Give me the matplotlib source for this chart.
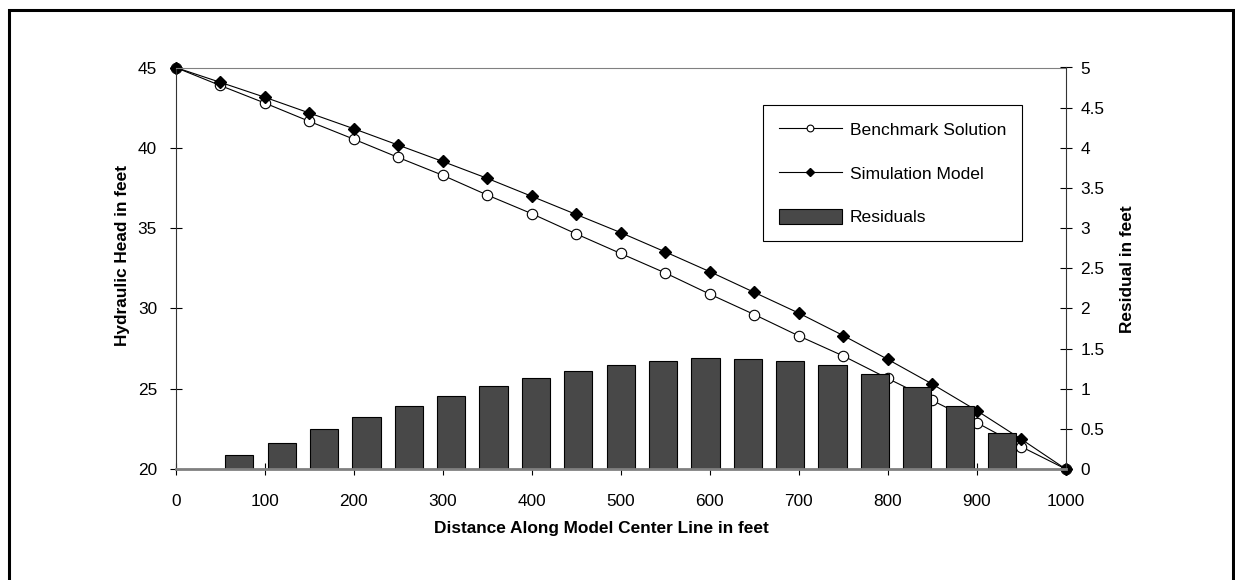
import matplotlib.pyplot as plt
import numpy as np
from matplotlib.patches import Rectangle
from matplotlib.ticker import FuncFormatter

plt.rcParams['font.family'] = ['Liberation Sans', 'DejaVu Sans']

# distance along model center line (ft)
distance = [0, 50, 100, 150, 200, 250, 300, 350, 400, 450, 500,
            550, 600, 650, 700, 750, 800, 850, 900, 950, 1000]
# hydraulic head (ft)
benchmark = [45.0, 43.88, 42.79, 41.65, 40.54, 39.40, 38.29, 37.06, 35.90, 34.64, 33.42,
             32.21, 30.89, 29.62, 28.29, 27.04, 25.64, 24.27, 22.89, 21.39, 20.0]
simulation = [45.0, 44.08, 43.15, 42.17, 41.19, 40.17, 39.15, 38.10, 36.98, 35.85, 34.72,
              33.52, 32.29, 31.00, 29.71, 28.31, 26.83, 25.29, 23.64, 21.86, 20.0]
# residual (ft)
residuals = [0.0, 0.17, 0.33, 0.50, 0.65, 0.78, 0.91, 1.03, 1.13, 1.22, 1.29,
             1.35, 1.38, 1.37, 1.35, 1.29, 1.18, 1.02, 0.78, 0.45, 0.0]

W, H = 1235, 580
fig = plt.figure(figsize=(W / 100, H / 100), dpi=100)
pos = [175.7 / W, 1 - 469 / H, (1065.7 - 175.7) / W, (469 - 67.5) / H]
fs = 12.4

# head lines (drawn underneath the bars)
ax = fig.add_axes(pos, facecolor='none')
ax.plot(distance, benchmark, color='black', lw=0.8, marker='o', ms=7.5,
        mfc='white', mec='black', mew=0.8, label='Benchmark Solution', clip_on=False)
ax.plot(distance, simulation, color='black', lw=0.8, marker='D', ms=6,
        mfc='black', mec='black', label='Simulation Model', clip_on=False)
ax.set_xlim(0, 1000)
ax.set_ylim(20, 45)
ax.set_xticks(range(0, 1001, 100))
ax.set_yticks(range(20, 46, 5))
ax.tick_params(direction='inout', length=8, width=0.8, labelsize=fs, colors='black')
ax.tick_params(axis='y', pad=9.5)
ax.tick_params(axis='x', pad=14)
ax.spines['right'].set_visible(False)
ax.spines['bottom'].set_visible(False)
ax.spines['top'].set_color('#808080')
ax.spines['left'].set_color('#333333')

# residual bars on a category axis
axb = fig.add_axes(pos, facecolor='none')
axb.bar(np.arange(len(residuals)), residuals, width=2 / 3, color='#484848',
        edgecolor='black', lw=0.8, label='Residuals')
axb.set_xlim(-0.5, len(residuals) - 0.5)
axb.set_ylim(0, 5)
axb.set_xticks([])
axb.yaxis.tick_right()
axb.set_yticks(np.arange(0, 5.01, 0.5))
axb.yaxis.set_major_formatter(FuncFormatter(lambda v, p: f'{v:g}'))
axb.tick_params(axis='y', direction='inout', length=8, width=0.8, labelsize=fs, pad=6.5)
axb.spines['left'].set_visible(False)
axb.spines['top'].set_visible(False)
axb.spines['bottom'].set_color('#808080')
axb.spines['bottom'].set_linewidth(2)
axb.spines['right'].set_color('#333333')

h1, l1 = ax.get_legend_handles_labels()
h2, l2 = axb.get_legend_handles_labels()
leg = axb.legend(h1 + h2, l1 + l2, loc='upper left',
                 bbox_to_anchor=(763 / W, 1 - 105 / H), bbox_transform=fig.transFigure,
                 fancybox=False, framealpha=1, edgecolor='black', fontsize=12.6,
                 borderpad=0.9, labelspacing=1.55, handlelength=3.6, handleheight=1.0,
                 handletextpad=0.45, markerscale=0.65, borderaxespad=0)
leg.get_frame().set_linewidth(0.8)

fig.text(601 / W, 1 - 528 / H, 'Distance Along Model Center Line in feet',
         ha='center', va='center', fontsize=fs, fontweight='bold')
fig.text(122 / W, 1 - 255 / H, 'Hydraulic Head in feet', rotation=90,
         ha='center', va='center', fontsize=fs, fontweight='bold')
fig.text(1128 / W, 1 - 269 / H, 'Residual in feet', rotation=90,
         ha='center', va='center', fontsize=fs, fontweight='bold')

# outer frame
fig.patches.append(Rectangle((9 / W, -0.05), (1233 - 9) / W, 1.05 - 10.5 / H,
                             transform=fig.transFigure, fill=False, lw=2.2, ec='black'))

fig.savefig('out.png', dpi=100)
